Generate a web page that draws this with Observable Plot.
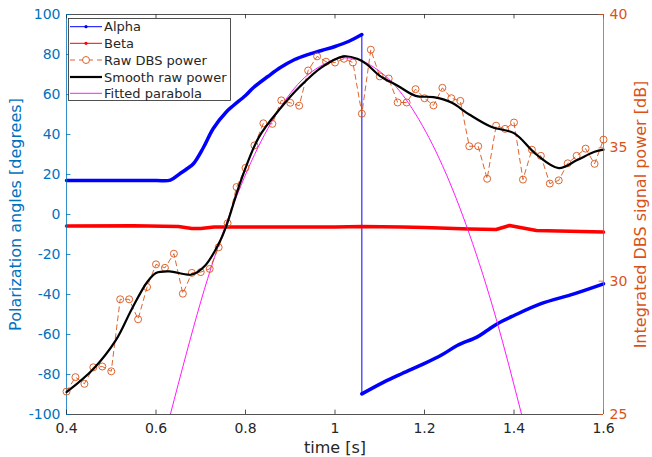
<!DOCTYPE html>
<html><head><meta charset="utf-8">
<script src="https://cdn.jsdelivr.net/npm/d3@7"></script>
<script src="https://cdn.jsdelivr.net/npm/@observablehq/plot@0.6"></script>
<style>
html,body{margin:0;padding:0;background:#fff;}
#wrap{position:relative;width:652px;height:457px;font-family:"DejaVu Sans",sans-serif;overflow:hidden;}
#wrap > svg.layer{position:absolute;left:0;top:0;}
</style></head><body><div id="wrap"></div>
<script>
// ---- data ----
const rawTime = [0.40,0.42,0.44,0.46,0.48,0.50,0.52,0.54,0.56,0.58,0.60,0.62,0.64,0.66,0.68,0.70,0.72,0.74,0.76,0.78,
  0.80,0.82,0.84,0.86,0.88,0.90,0.92,0.94,0.96,0.98,1.00,1.02,1.04,1.06,1.08,1.10,1.12,1.14,1.16,1.18,
  1.20,1.22,1.24,1.26,1.28,1.30,1.32,1.34,1.36,1.38,1.40,1.42,1.44,1.46,1.48,1.50,1.52,1.54,1.56,1.58,1.60];
const rawPower = [25.86,26.40,26.15,26.77,26.80,26.62,29.32,29.32,28.57,29.78,30.63,30.50,31.03,29.53,30.31,30.34,30.46,31.27,32.17,33.53,
  34.25,35.09,35.92,35.90,36.78,36.69,36.58,37.90,38.43,38.23,38.20,38.34,38.20,36.28,38.68,37.68,37.60,36.70,36.70,37.20,
  36.86,36.59,37.25,36.86,36.76,35.06,35.06,33.84,35.83,35.71,35.95,33.81,34.93,34.70,33.66,33.78,34.42,34.70,34.97,34.40,35.31];

const smoothTime  = [0.40,0.46,0.51,0.546,0.58,0.60,0.63,0.68,0.71,0.74,0.756,0.79,0.83,0.88,0.92,0.97,1.02,1.05,1.07,1.10,1.14,1.18,1.22,1.26,1.30,1.35,1.40,1.45,1.50,1.54,1.58,1.60];
const smoothPower = [25.84,26.71,27.78,28.96,29.96,30.31,30.37,30.25,30.59,31.40,32.02,33.78,35.40,36.52,37.27,38.02,38.43,38.34,38.15,37.70,37.33,36.95,36.90,36.70,36.25,35.78,35.55,34.75,34.24,34.53,34.85,34.93];

const parabolaTime  = [0.632,0.70,0.76,0.82,0.88,0.94,1.00,1.025,1.06,1.12,1.18,1.24,1.30,1.36,1.417];
const parabolaPower = [25.0,29.23,32.30,34.74,36.56,37.75,38.32,38.37,38.26,37.58,36.27,34.34,31.78,28.60,25.0];

const alphaTime1  = [0.40,0.50,0.60,0.632,0.654,0.67,0.684,0.706,0.728,0.758,0.773,0.80,0.818,0.85,0.878,0.91,0.937,0.97,1.00,1.03,1.06];
const alphaAngle1 = [17,17,17,17.2,20.5,23,25.5,33.5,43,51.5,54.5,59.5,63.5,69,73.5,77.5,79.8,82,84,86.5,90];
const alphaTime2  = [1.06,1.109,1.15,1.198,1.24,1.273,1.317,1.34,1.362,1.40,1.459,1.534,1.60];
const alphaAngle2 = [-89.7,-83.8,-79.5,-74.7,-70,-65.5,-61.3,-58,-54.7,-50.5,-44.7,-39.7,-34.7];

const betaTime  = [0.40,0.55,0.65,0.68,0.70,0.73,0.80,0.90,1.00,1.06,1.15,1.20,1.30,1.36,1.39,1.45,1.50,1.55,1.60];
const betaAngle = [-5.8,-5.6,-6.0,-7.0,-7.0,-6.2,-6.2,-6.3,-6.2,-6.0,-6.2,-6.5,-7.2,-7.5,-5.5,-8.0,-8.2,-8.5,-8.8];

const xTicks = [0.4,0.6,0.8,1,1.2,1.4,1.6];
const leftTicks = [-100,-80,-60,-40,-20,0,20,40,60,80,100];
const rightTicks = [25,30,35,40];

const seriesNames = ["Alpha","Beta","Raw DBS power","Smooth raw power","Fitted parabola"];

// ---- build tables ----
const raw = rawTime.map((t,i)=>({t, p: rawPower[i]}));
const smooth = smoothTime.map((t,i)=>({t, p: smoothPower[i]}));
const parab = parabolaTime.map((t,i)=>({t, p: parabolaPower[i]}));
const alpha = [
  ...alphaTime1.map((t,i)=>({t, a: alphaAngle1[i], seg: 1})),
  ...alphaTime2.map((t,i)=>({t, a: alphaAngle2[i], seg: 2}))
];
const beta = betaTime.map((t,i)=>({t, a: betaAngle[i]}));

const BLUE_AX = "#0072BD", ORANGE = "#D95319", GRAY = "#262626";
const W = 652, H = 457;
const margins = {marginLeft: 66, marginRight: 49, marginTop: 14, marginBottom: 43};
const common = {
  width: W, height: H, ...margins,
  className: "layer",
  style: {background: "transparent", fontFamily: "DejaVu Sans, sans-serif", fontSize: "14px", overflow: "visible"}
};
const tickLenX = 0.0099; // in time units (~4.5px)
const tickLenL = 2.2;    // in degrees
const tickLenR = 0.165;  // in dB

const plotL = Plot.plot({
  ...common,
  x: {domain: [0.4, 1.6], axis: null},
  y: {domain: [-100, 100], axis: null},
  marks: [
    Plot.line(alpha, {x: "t", y: "a", stroke: "#0000FF", strokeWidth: 1}),
    Plot.line(alpha, {x: "t", y: "a", z: "seg", stroke: "#0000FF", strokeWidth: 3.5, curve: "catmull-rom"}),
    Plot.line(beta, {x: "t", y: "a", stroke: "#FF0000", strokeWidth: 3.5}),
    Plot.ruleY([100], {stroke: GRAY, strokeWidth: 0.8}),
    Plot.ruleY([-100], {stroke: GRAY, strokeWidth: 0.8}),
    Plot.ruleX([0.4], {stroke: BLUE_AX, strokeWidth: 0.8}),
    Plot.ruleX(xTicks, {x: d => d, y1: -100, y2: -100 + tickLenL, stroke: GRAY, strokeWidth: 0.8}),
    Plot.ruleX(xTicks, {x: d => d, y1: 100, y2: 100 - tickLenL, stroke: GRAY, strokeWidth: 0.8}),
    Plot.ruleY(leftTicks, {y: d => d, x1: 0.4, x2: 0.4 + tickLenX, stroke: BLUE_AX, strokeWidth: 0.8}),
    Plot.axisX(xTicks, {anchor: "bottom", tickSize: 0, tickPadding: 9, fontSize: 14, color: GRAY, tickFormat: d => String(d), label: null}),
    Plot.axisY(leftTicks, {anchor: "left", tickSize: 0, tickPadding: 6, fontSize: 14, color: BLUE_AX, tickFormat: d => String(d), label: null}),
    Plot.text(["Polarization angles [degrees]"], {frameAnchor: "left", dx: -51, rotate: -90, fontSize: 16, fill: BLUE_AX, textAnchor: "middle", lineAnchor: "middle"}),
    Plot.text(["time [s]"], {frameAnchor: "bottom", dy: 33, fontSize: 16, fill: GRAY, textAnchor: "middle", lineAnchor: "middle"})
  ]
});

const plotR = Plot.plot({
  ...common,
  x: {domain: [0.4, 1.6], axis: null},
  y: {domain: [25, 40], axis: null},
  marks: [
    Plot.line(parab, {x: "t", y: "p", stroke: "#FF00FF", strokeWidth: 0.9, curve: "natural", clip: true}),
    Plot.line(raw, {x: "t", y: "p", stroke: ORANGE, strokeWidth: 0.9, strokeDasharray: "5,4"}),
    Plot.dot(raw, {x: "t", y: "p", r: 3.5, stroke: ORANGE, strokeWidth: 0.9, fill: "none"}),
    Plot.line(smooth, {x: "t", y: "p", stroke: "#000000", strokeWidth: 2.2, curve: "catmull-rom"}),
    Plot.ruleX([1.6], {stroke: ORANGE, strokeWidth: 0.8}),
    Plot.ruleY(rightTicks, {y: d => d, x1: 1.6 - tickLenX, x2: 1.6, stroke: ORANGE, strokeWidth: 0.8}),
    Plot.axisY(rightTicks, {anchor: "right", tickSize: 0, tickPadding: 6, fontSize: 14, color: ORANGE, tickFormat: d => String(d), label: null}),
    Plot.text(["Integrated DBS signal power [dB]"], {frameAnchor: "right", dx: 37, rotate: -90, fontSize: 16, fill: ORANGE, textAnchor: "middle", lineAnchor: "middle"})
  ]
});

const wrap = document.getElementById("wrap");
wrap.appendChild(plotL);
wrap.appendChild(plotR);

// ---- legend ----
const lg = d3.select(wrap).append("svg")
  .attr("width", 164).attr("height", 84)
  .style("position", "absolute").style("left", "68px").style("top", "18px");
lg.append("rect").attr("x", 0.5).attr("y", 0.5).attr("width", 162).attr("height", 82)
  .attr("fill", "#fff").attr("stroke", GRAY).attr("stroke-width", 0.8);
const rowY = [8.7, 25.3, 42, 59, 75.3];
const styles = [
  {stroke: "#0000FF", w: 1, dash: null, marker: "dot"},
  {stroke: "#FF0000", w: 1, dash: null, marker: "dot"},
  {stroke: ORANGE, w: 0.9, dash: "5,4", marker: "circle"},
  {stroke: "#000000", w: 2.2, dash: null, marker: null},
  {stroke: "#FF00FF", w: 0.9, dash: null, marker: null}
];
seriesNames.forEach((name, i) => {
  const s = styles[i], y = rowY[i];
  lg.append("line").attr("x1", 2).attr("x2", 34).attr("y1", y).attr("y2", y)
    .attr("stroke", s.stroke).attr("stroke-width", s.w).attr("stroke-dasharray", s.dash);
  if (s.marker === "dot") lg.append("circle").attr("cx", 18).attr("cy", y).attr("r", 1.6).attr("fill", s.stroke);
  if (s.marker === "circle") lg.append("circle").attr("cx", 18).attr("cy", y).attr("r", 3.5).attr("fill", "#fff").attr("stroke", s.stroke).attr("stroke-width", 0.9);
  lg.append("text").attr("x", 36).attr("y", y).attr("dy", "0.36em")
    .attr("font-family", "DejaVu Sans, sans-serif").attr("font-size", 13).attr("fill", GRAY).text(name);
});
</script></body></html>
